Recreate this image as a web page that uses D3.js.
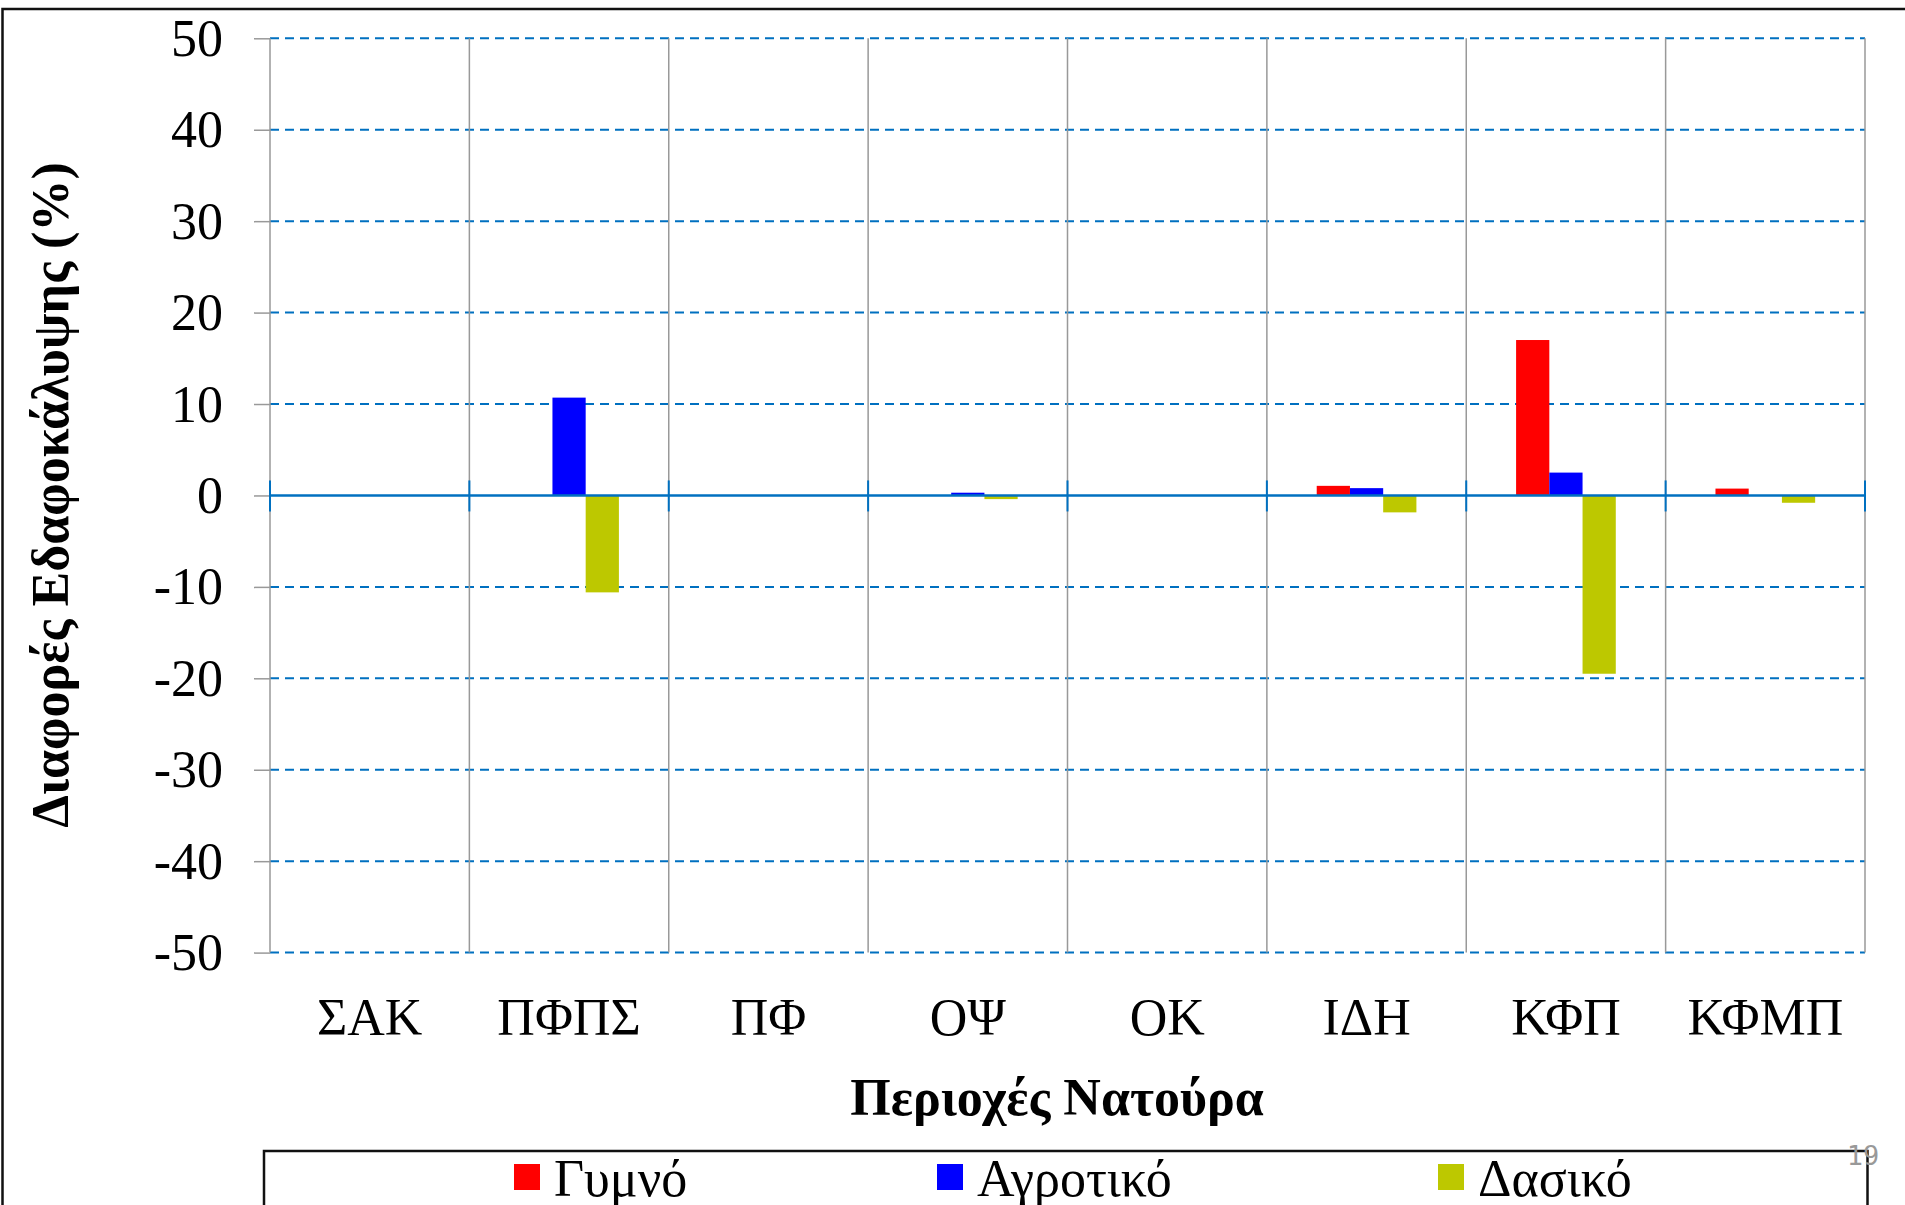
<!DOCTYPE html>
<html>
<head>
<meta charset="utf-8">
<script src="https://cdn.jsdelivr.net/npm/d3@7"></script>
<style>
  body { margin: 0; background: #fff; }
  svg { display: block; }
  .serif { font-family: "Liberation Serif", "Times New Roman", serif; fill: #000; }
</style>
</head>
<body>
<svg id="chart" width="1905" height="1205"></svg>
<script>
// data
var areas = ["ΣΑΚ", "ΠΦΠΣ", "ΠΦ", "ΟΨ", "ΟΚ", "ΙΔΗ", "ΚΦΠ", "ΚΦΜΠ"];
var seriesNames = ["Γυμνό", "Αγροτικό", "Δασικό"];
var gymno    = [0, 0, 0, 0, 0, 1.05, 17.0, 0.75];
var agrotiko = [0, 10.7, 0, 0.3, 0, 0.8, 2.5, 0];
var dasiko   = [0, -10.6, 0, -0.4, 0, -1.85, -19.5, -0.8];
var yTicks = [50, 40, 30, 20, 10, 0, -10, -20, -30, -40, -50];
var colors = ["#ff0000", "#0000ff", "#bdc800"];

var values = [gymno, agrotiko, dasiko];

var svg = d3.select("#chart");

// plot box (note: "top" is reserved on window, so use other names)
var plotL = 270, plotR = 1865, plotT = 38.3, plotB = 952.6;

var x = d3.scaleBand().domain(areas).range([plotL, plotR]).paddingInner(0).paddingOuter(0);
var y = d3.scaleLinear().domain([-50, 50]).range([plotB, plotT]);
var xs = d3.scaleBand().domain(seriesNames)
  .range([x.bandwidth() * 0.25, x.bandwidth() * 0.75]);

// outer slide frame
svg.append("path")
   .attr("d", "M 2.5 1205 L 2.5 9 L 1905 9")
   .attr("fill", "none")
   .attr("stroke", "#111")
   .attr("stroke-width", 2.5);

// horizontal dashed grid
svg.append("g").selectAll("line")
   .data(yTicks.filter(function(d) { return d !== 0; }))
   .join("line")
   .attr("x1", plotL).attr("x2", plotR)
   .attr("y1", function(d) { return y(d); })
   .attr("y2", function(d) { return y(d); })
   .attr("stroke", "#0070c0")
   .attr("stroke-width", 2)
   .attr("stroke-dasharray", "9 6");

// vertical grid at category boundaries
var bounds = areas.map(function(a) { return x(a); }).concat([plotR]);
svg.append("g").selectAll("line")
   .data(bounds)
   .join("line")
   .attr("x1", function(d) { return d; }).attr("x2", function(d) { return d; })
   .attr("y1", plotT).attr("y2", plotB)
   .attr("stroke", "#999")
   .attr("stroke-width", 1.5);

// y axis ticks + labels
var yAxis = d3.axisLeft(y).tickValues(yTicks).tickSize(16).tickPadding(31)
  .tickFormat(d3.format("d"));
var gy = svg.append("g").attr("transform", "translate(" + plotL + ",0)").call(yAxis);
gy.select(".domain").remove();
gy.selectAll(".tick line").attr("stroke", "#999").attr("stroke-width", 1.5);
gy.selectAll(".tick text")
  .attr("class", "serif")
  .attr("font-size", 52)
  .attr("dy", null)
  .attr("y", 17)
  .attr("fill", "#000")
  .text(function(d) { return String(d); });

// bars
var groups = svg.append("g").selectAll("g")
  .data(values)
  .join("g")
  .attr("fill", function(d, i) { return colors[i]; });
groups.each(function(vals, si) {
  d3.select(this).selectAll("rect")
    .data(vals)
    .join("rect")
    .attr("x", function(d, i) { return x(areas[i]) + xs(seriesNames[si]); })
    .attr("width", xs.bandwidth())
    .attr("y", function(d) { return y(Math.max(0, d)); })
    .attr("height", function(d) { return Math.abs(y(d) - y(0)); });
});

// zero line with small ticks
svg.append("line")
   .attr("x1", plotL).attr("x2", plotR)
   .attr("y1", y(0)).attr("y2", y(0))
   .attr("stroke", "#0070c0")
   .attr("stroke-width", 2.5);
svg.append("g").selectAll("line")
   .data(bounds)
   .join("line")
   .attr("x1", function(d) { return d; }).attr("x2", function(d) { return d; })
   .attr("y1", y(0) - 15).attr("y2", y(0) + 16)
   .attr("stroke", "#0070c0")
   .attr("stroke-width", 2);

// category labels
svg.append("g").selectAll("text")
   .data(areas)
   .join("text")
   .attr("class", "serif")
   .attr("x", function(d) { return x(d) + x.bandwidth() / 2; })
   .attr("y", 1035)
   .attr("text-anchor", "middle")
   .attr("font-size", 52)
   .text(function(d) { return d; });

// axis titles
svg.append("text")
   .attr("class", "serif")
   .attr("x", 1057)
   .attr("y", 1115)
   .attr("text-anchor", "middle")
   .attr("font-size", 52)
   .attr("font-weight", "bold")
   .text("Περιοχές Νατούρα");

svg.append("text")
   .attr("class", "serif")
   .attr("transform", "translate(68,495) rotate(-90)")
   .attr("text-anchor", "middle")
   .attr("font-size", 52)
   .attr("font-weight", "bold")
   .text("Διαφορές Εδαφοκάλυψης (%)");

// legend
svg.append("rect")
   .attr("x", 264).attr("y", 1151)
   .attr("width", 1867.5 - 264).attr("height", 80)
   .attr("fill", "none")
   .attr("stroke", "#111")
   .attr("stroke-width", 2.5);

var legendX = [514, 937, 1438];
var leg = svg.append("g").selectAll("g")
  .data(seriesNames)
  .join("g")
  .attr("transform", function(d, i) { return "translate(" + legendX[i] + ",1164)"; });
leg.append("rect")
   .attr("width", 26).attr("height", 26)
   .attr("fill", function(d, i) { return colors[i]; });
leg.append("text")
   .attr("class", "serif")
   .attr("x", 40)
   .attr("y", 32)
   .attr("font-size", 52)
   .text(function(d) { return d; });

// slide number
svg.append("text")
   .attr("x", 1863)
   .attr("y", 1165)
   .attr("text-anchor", "middle")
   .attr("font-family", "DejaVu Sans Mono, monospace")
   .attr("font-size", 27)
   .attr("fill", "#999")
   .text("19");
</script>
</body>
</html>
